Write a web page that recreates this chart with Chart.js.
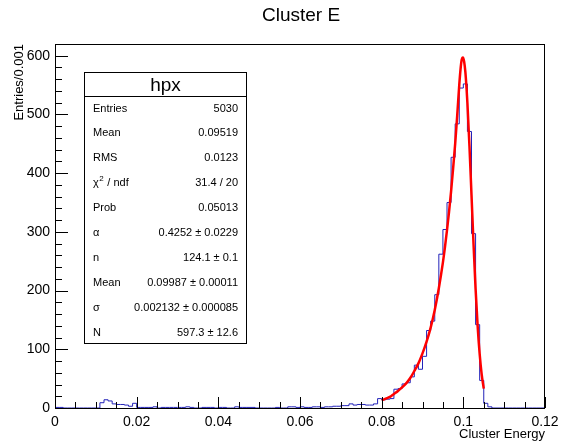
<!DOCTYPE html>
<html>
<head>
<meta charset="utf-8">
<script src="https://cdn.jsdelivr.net/npm/chart.js@4.4.1/dist/chart.umd.min.js"></script>
<style>
  body { margin: 0; background: #fff; }
  canvas { display: block; }
</style>
</head>
<body>
<canvas id="hpx" width="568" height="448"></canvas>
<script>
// histogram: 120 bins of 0.001 starting at 0
var binStart = 0;
var binWidth = 0.001;
var counts = [
  1, 1, 0, 0, 0, 0, 0, 0, 0, 0,
  0, 9, 14, 12, 7, 6, 6, 5, 3, 8,
  1, 1, 1, 1, 2, 0, 1, 1, 1, 1,
  1, 1, 2, 1, 0, 0, 1, 1, 1, 0,
  1, 1, 0, 0, 2, 1, 1, 1, 1, 0,
  0, 0, 0, 0, 1, 0, 0, 2, 2, 1,
  2, 1, 1, 2, 2, 1, 2, 2, 3, 3,
  4, 4, 7, 5, 6, 6, 5, 5, 7, 16,
  14, 15, 16, 32, 33, 41, 43, 53, 73, 66,
  88, 132, 148, 193, 262, 304, 350, 427, 484, 545,
  552, 471, 297, 142, 47, 8, 2, 0, 0, 0,
  0, 0, 0, 0, 0, 0, 0, 0, 0, 0
];

// crystal ball fit curve
var fitX = [0.080, 0.081, 0.082, 0.083, 0.084, 0.085, 0.086, 0.087, 0.088, 0.089,
  0.090, 0.091, 0.092, 0.093, 0.094, 0.095, 0.0955, 0.096, 0.0965, 0.097,
  0.0975, 0.098, 0.0985, 0.099, 0.0993, 0.0996, 0.0999, 0.1002, 0.1005, 0.1008,
  0.101, 0.1015, 0.102, 0.1025, 0.103, 0.1035, 0.104, 0.1045, 0.105];
var fitY = [13, 16, 19, 24, 29, 35, 42, 51, 63, 76,
  93, 113, 137, 167, 204, 248, 274, 303, 334, 369,
  408, 450, 498, 550, 576, 593, 597, 590, 572, 543,
  519, 446, 363, 279, 203, 140, 92, 57, 33];

// axis ticks
var xMin = 0, xMax = 0.12, xMajor = 0.02, xMinor = 0.005;
var yMin = 0, yMax = 620, yMajor = 100, yMinor = 20;

// stats box
var statsTitle = "hpx";
var statsLabels = ["Entries", "Mean", "RMS", "χ2 / ndf", "Prob", "α", "n", "Mean", "σ", "N"];
var statsValues = ["5030", "0.09519", "0.0123", "31.4 / 20", "0.05013",
  "0.4252 ± 0.0229", "124.1 ± 0.1", "0.09987 ± 0.00011", "0.002132 ± 0.000085", "597.3 ± 12.6"];

var FONT = '"Liberation Sans", Arial, Helvetica, sans-serif';

var histPoints = [];
for (var i = 0; i < counts.length; i++) {
  histPoints.push({ x: binStart + i * binWidth, y: counts[i] });
}
histPoints.push({ x: binStart + counts.length * binWidth, y: counts[counts.length - 1] });

var fitPoints = fitX.map(function(x, i) { return { x: x, y: fitY[i] }; });

function isMultiple(v, step) {
  var r = v / step;
  return Math.abs(r - Math.round(r)) < 1e-6;
}

function fmtX(v) {
  return (Math.round(v * 1000) / 1000).toString();
}

var rootStyle = {
  id: "rootStyle",
  afterDraw: function(chart) {
    var ctx = chart.ctx;
    var a = chart.chartArea;
    var xs = chart.scales.x, ys = chart.scales.y;
    ctx.save();

    // frame
    ctx.strokeStyle = "#000";
    ctx.lineWidth = 1;
    ctx.strokeRect(Math.round(a.left) + 0.5, Math.round(a.top) + 0.5,
      Math.round(a.right - a.left) - 1, Math.round(a.bottom - a.top));

    // inward tick marks
    ctx.beginPath();
    xs.ticks.forEach(function(t) {
      var px = Math.round(xs.getPixelForValue(t.value)) + 0.5;
      var len = isMultiple(t.value, xMajor) ? 11 : 6;
      ctx.moveTo(px, a.bottom);
      ctx.lineTo(px, a.bottom - len);
    });
    ys.ticks.forEach(function(t) {
      var py = Math.round(ys.getPixelForValue(t.value)) + 0.5;
      var len = isMultiple(t.value, yMajor) ? 13 : 7;
      ctx.moveTo(a.left, py);
      ctx.lineTo(a.left + len, py);
    });
    ctx.stroke();

    // titles
    ctx.fillStyle = "#000";
    ctx.font = "19px " + FONT;
    ctx.textAlign = "center";
    ctx.textBaseline = "middle";
    ctx.fillText("Cluster E", 301, 16);

    ctx.font = "13px " + FONT;
    ctx.textAlign = "right";
    ctx.fillText("Cluster Energy", a.right, 434);

    ctx.save();
    ctx.translate(19, a.top);
    ctx.rotate(-Math.PI / 2);
    ctx.textAlign = "right";
    ctx.fillText("Entries/0.001", 0, 0);
    ctx.restore();

    // stats box
    var bx = 84.5, by = 72.5, bw = 162, bh = 271, hh = 24;
    ctx.fillStyle = "#fff";
    ctx.fillRect(bx, by, bw, bh);
    ctx.strokeStyle = "#000";
    ctx.strokeRect(bx, by, bw, bh);
    ctx.beginPath();
    ctx.moveTo(bx, by + hh);
    ctx.lineTo(bx + bw, by + hh);
    ctx.stroke();

    ctx.fillStyle = "#000";
    ctx.font = "19px " + FONT;
    ctx.textAlign = "center";
    ctx.fillText(statsTitle, bx + bw / 2, by + hh / 2 + 1);

    ctx.font = "11px " + FONT;
    var rowH = 24.9;
    statsLabels.forEach(function(lab, k) {
      var ry = 108.5 + k * rowH;
      ctx.textAlign = "left";
      if (lab.charAt(0) === "χ") {
        ctx.fillText("χ", 93, ry);
        var w = ctx.measureText("χ").width;
        ctx.font = "8px " + FONT;
        ctx.fillText("2", 93 + w + 0.5, ry - 4);
        var w2 = ctx.measureText("2").width;
        ctx.font = "11px " + FONT;
        ctx.fillText(lab.slice(2), 93 + w + w2 + 1, ry);
      } else {
        ctx.fillText(lab, 93, ry);
      }
      ctx.textAlign = "right";
      ctx.fillText(statsValues[k], 238, ry);
    });

    ctx.restore();
  }
};

Chart.defaults.color = "#000";
Chart.defaults.font.family = FONT;

new Chart(document.getElementById("hpx").getContext("2d"), {
  type: "line",
  data: {
    datasets: [
      {
        label: "fit",
        data: fitPoints,
        borderColor: "#ff0000",
        borderWidth: 2.5,
        pointRadius: 0,
        fill: false,
        cubicInterpolationMode: "monotone",
        order: 0
      },
      {
        label: "hpx",
        data: histPoints,
        borderColor: "rgb(35, 35, 185)",
        borderWidth: 1,
        pointRadius: 0,
        fill: false,
        stepped: "before",
        order: 1
      }
    ]
  },
  options: {
    responsive: false,
    animation: false,
    events: [],
    layout: { padding: { left: 0, right: 23, top: 44, bottom: 0 } },
    plugins: {
      legend: { display: false },
      title: { display: false },
      tooltip: { enabled: false }
    },
    scales: {
      x: {
        type: "linear",
        min: xMin,
        max: xMax,
        grid: { display: false, drawTicks: false },
        border: { display: false },
        ticks: {
          stepSize: xMinor,
          autoSkip: false,
          maxRotation: 0,
          padding: 6,
          font: { size: 14 },
          callback: function(v) { return isMultiple(v, xMajor) ? fmtX(v) : ""; }
        },
        afterFit: function(s) { s.height = 40; }
      },
      y: {
        type: "linear",
        min: yMin,
        max: yMax,
        grid: { display: false, drawTicks: false },
        border: { display: false },
        ticks: {
          stepSize: yMinor,
          autoSkip: false,
          padding: 5,
          font: { size: 14 },
          callback: function(v) { return isMultiple(v, yMajor) ? String(v) : ""; }
        },
        afterFit: function(s) { s.width = 55; }
      }
    }
  },
  plugins: [rootStyle]
});
</script>
</body>
</html>
